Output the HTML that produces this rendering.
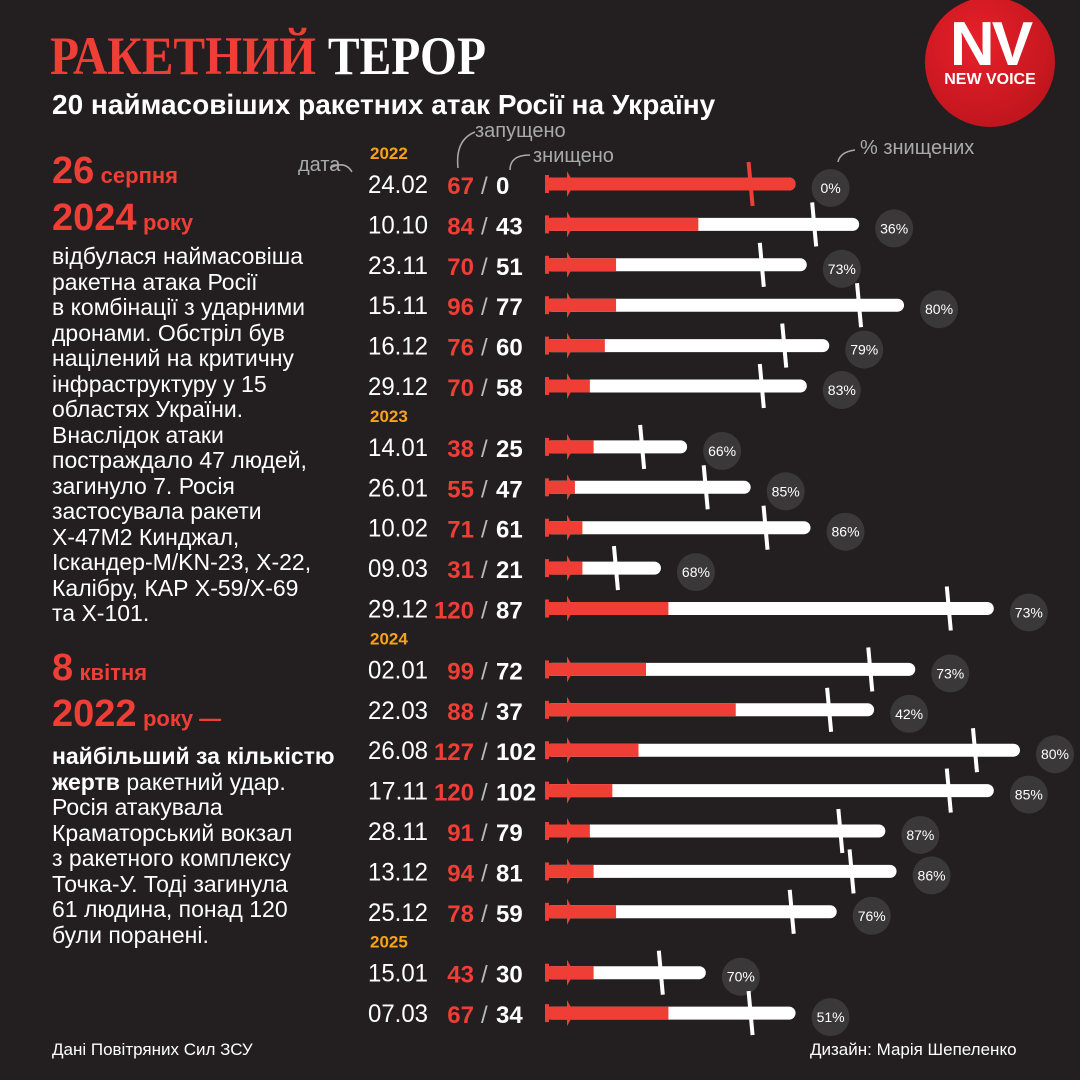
<!DOCTYPE html>
<html><head><meta charset="utf-8">
<style>
body{margin:0;background:#231f20;}
#c{position:relative;width:1080px;height:1080px;background:#231f20;overflow:hidden;font-family:"Liberation Sans",sans-serif;color:#fff;}
.t{position:absolute;white-space:nowrap;}
.left{position:absolute;left:52px;font-size:23px;line-height:25.5px;color:#fff;}
.red{color:#ee3e36;}
.big{font-weight:bold;font-size:38px;color:#ee3e36;}
.sm{font-weight:bold;font-size:22px;color:#ee3e36;}
</style></head><body>
<div id="c">
<div class="t" style="left:50px;top:26px;font-family:'Liberation Serif',serif;font-weight:bold;font-size:54px;line-height:60px;transform:scaleX(0.88);transform-origin:left;"><span class="red">РАКЕТНИЙ</span> ТЕРОР</div>
<div class="t" style="left:52px;top:89px;font-size:28px;font-weight:bold;">20 наймасовіших ракетних атак Росії на Україну</div>
<div style="position:absolute;left:925px;top:-3px;width:130px;height:130px;border-radius:50%;background:radial-gradient(circle at 40% 35%,#e8202a,#b3121a);">
<div class="t" style="left:0;width:130px;text-align:center;top:12px;font-size:62px;font-weight:bold;letter-spacing:-3px;">NV</div>
<div class="t" style="left:0;width:130px;text-align:center;top:74px;font-size:16px;font-weight:bold;">NEW VOICE</div></div>

<div class="left" style="top:150px;">
<div style="line-height:42px"><span class="big">26</span> <span class="sm">серпня</span></div>
<div style="line-height:42px"><span class="big">2024</span> <span class="sm">року</span></div>
відбулася наймасовіша<br>ракетна атака Росії<br>в комбінації з ударними<br>дронами. Обстріл був<br>націлений на критичну<br>інфраструктуру у 15<br>областях України.<br>Внаслідок атаки<br>постраждало 47 людей,<br>загинуло 7. Росія<br>застосувала ракети<br>Х-47М2 Кинджал,<br>Іскандер-М/KN-23, Х-22,<br>Калібру, КАР Х-59/Х-69<br>та Х-101.</div>
<div class="left" style="top:648px;">
<div style="line-height:40px"><span class="big">8</span> <span class="sm">квітня</span></div>
<div style="line-height:42px"><span class="big">2022</span> <span class="sm">року —</span></div>
<div style="margin-top:4px"><b>найбільший за кількістю<br>жертв</b> ракетний удар.<br>Росія атакувала<br>Краматорський вокзал<br>з ракетного комплексу<br>Точка-У. Тоді загинула<br>61 людина, понад 120<br>були поранені.</div></div>

<div class="t" style="left:52px;top:1040px;font-size:17px;">Дані Повітряних Сил ЗСУ</div>
<div class="t" style="left:810px;top:1040px;font-size:17px;">Дизайн: Марія Шепеленко</div>

<div class="t" style="left:298px;top:154px;font-size:20px;color:#aaa;">дата</div>
<div class="t" style="left:475px;top:120px;font-size:20px;color:#aaa;">запущено</div>
<div class="t" style="left:533px;top:145px;font-size:20px;color:#aaa;">знищено</div>
<div class="t" style="left:860px;top:137px;font-size:20px;color:#aaa;">% знищених</div>
<svg width="1080" height="1080" style="position:absolute;left:0;top:0">
<g fill="none" stroke="#aaa" stroke-width="1.5">
<path d="M330,168 Q345,160 352,172"/><path d="M475,132 Q455,140 458,168"/><path d="M530,155 Q510,155 510,170"/><path d="M855,150 Q840,152 838,162"/></g></svg>
<svg id="chart" width="1080" height="1080" style="position:absolute;left:0;top:0"></svg>
</div>
<script>
const dates=["24.02","10.10","23.11","15.11","16.12","29.12","14.01","26.01","10.02","09.03","29.12","02.01","22.03","26.08","17.11","28.11","13.12","25.12","15.01","07.03"];
const launched=[67,84,70,96,76,70,38,55,71,31,120,99,88,127,120,91,94,78,43,67];
const destroyed=[0,43,51,77,60,58,25,47,61,21,87,72,37,102,102,79,81,59,30,34];
const pct=["0%","36%","73%","80%","79%","83%","66%","85%","86%","68%","73%","73%","42%","80%","85%","87%","86%","76%","70%","51%"];
const yearLabels=["2022","2023","2024","2025"];
const yearStart=[0,6,11,18];
const NS="http://www.w3.org/2000/svg";
const svg=document.getElementById('chart');
const x0=545,scale=3.74;
const xs=v=>x0+v*scale;
function el(t,a){const e=document.createElementNS(NS,t);for(const k in a)e.setAttribute(k,a[k]);svg.appendChild(e);return e;}
function grp(i){let g=0;for(let k=0;k<yearStart.length;k++)if(i>=yearStart[k])g=k;return g;}
function yOf(i){return 184+i*40.4+grp(i)*20.5;}
yearLabels.forEach((y,k)=>{const yy=yOf(yearStart[k])-31;const t=el('text',{x:370,y:yy+6,fill:'#f7a21b','font-size':17,'font-weight':'bold','font-family':'Liberation Sans'});t.textContent=y;

});
dates.forEach((d,i)=>{
 const y=yOf(i);
 const t=el('text',{x:368,y:y+9,fill:'#fff','font-size':25,'font-family':'Liberation Sans',textLength:60,lengthAdjust:'spacingAndGlyphs'});t.textContent=d;
 
 
 const tv=el('text',{x:474,y:y+10,fill:'#ee3e36','font-size':24,'font-weight':'bold','font-family':'Liberation Sans','text-anchor':'end'});tv.textContent=launched[i];
 
 
 const sl=el('text',{x:481,y:y+10,fill:'#bbb','font-size':24,'font-family':'Liberation Sans'});sl.textContent='/';
 const td=el('text',{x:496,y:y+10,fill:'#fff','font-size':24,'font-weight':'bold','font-family':'Liberation Sans'});td.textContent=destroyed[i];
 
 
 const xe=xs(launched[i]),xr=xs(launched[i]-destroyed[i]);
 const g=el('g',{});
 
 
 g.appendChild(el('rect',{x:x0,y:y-6.5,width:xe-x0,height:13,rx:6.5,fill:'#fff'}));
 const r=el('rect',{x:x0,y:y-6.5,width:Math.max(0,xr-x0),height:13,fill:'#ee3e36'});g.appendChild(r);
 if(destroyed[i]==0){r.setAttribute('rx',6.5);}
 g.appendChild(el('path',{d:`M${x0} ${y-9}L${x0+4} ${y-9}L${x0+4} ${y+9}L${x0} ${y+9}Z`,fill:'#ee3e36'}));
 g.appendChild(el('path',{d:`M${x0+22} ${y-13}L${x0+27} ${y-4}L${x0+27} ${y+4}L${x0+22} ${y+13}Z`,fill:'#ee3e36'}));
 const fc=destroyed[i]==0?'#ee3e36':'#fff';
 g.appendChild(el('line',{x1:xe-47,y1:y-22,x2:xe-43,y2:y+22,stroke:fc,'stroke-width':4}));
 const c=el('circle',{cx:xe+35,cy:y+4,r:19,fill:'#3b3839'});
 
 
 const tp=el('text',{x:xe+35,y:y+9,fill:'#fff','font-size':14,'text-anchor':'middle','font-family':'Liberation Sans'});tp.textContent=pct[i];
 
 
});
</script>
</body></html>
